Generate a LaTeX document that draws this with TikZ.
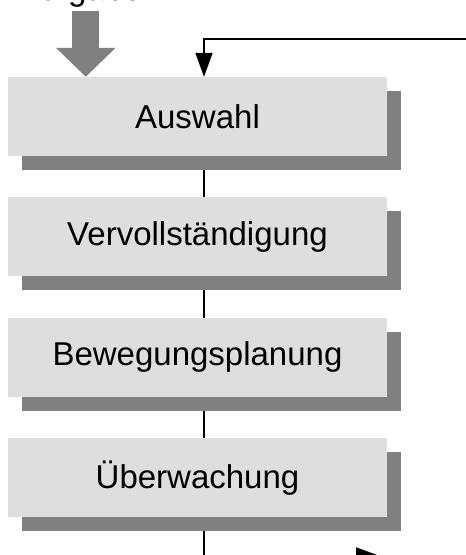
\documentclass[tikz,border=0pt]{standalone}
\usepackage{fontspec}
\setsansfont{Liberation Sans}
\usepackage{tikz}
\usetikzlibrary{
    arrows.meta,
    positioning,
    shadows,
    backgrounds
}
\definecolor{boxgrau}{HTML}{DEDEDE}
\definecolor{schatten}{HTML}{808080}
\tikzstyle{linie} = [
    line width=1.6pt,
    draw=black
]
\tikzstyle{pfeil} = [
    linie,
    -{Triangle[length=24pt,width=17pt]}
]

\begin{document}
\begin{tikzpicture}[
    font=\sffamily\fontsize{33}{40}\selectfont,
    node distance=41pt,
    stufe/.style={
        rectangle,
        minimum width=379pt,
        minimum height=79pt,
        inner sep=0pt,
        fill=boxgrau,
        text centered,
        drop shadow={shadow xshift=14pt, shadow yshift=-14pt,
            fill=schatten, opacity=1}
    },
    eingang/.style={
        line width=27pt,
        draw=schatten,
        -{Triangle[length=29pt,width=58pt]}
    }
]
\useasboundingbox (0,0) rectangle (466pt,-555pt);
\clip (0,0) rectangle (466pt,-555pt);

% Planungsstufen
\node[stufe] (auswahl) at (197.5pt,-116.5pt) {Auswahl};
\node[stufe, below=of auswahl] (vervoll) {Vervollständigung};
\node[stufe, below=of vervoll] (bewegung) {Bewegungsplanung};
\node[stufe, below=of bewegung] (ueberw) {Überwachung};

% Eingabe oben
\node[inner sep=0pt, anchor=base] (aufgabe) at (80pt,0pt) {Aufgabe};
\coordinate (ein) at ([xshift=78pt]auswahl.north west);
\draw[eingang] ([yshift=-4pt]aufgabe.south -| ein) -- (ein);

% Rueckfuehrung und Ausgang
\coordinate (rueck) at (470pt,-39pt);
\coordinate (aus) at (380pt,-556pt);
\draw[pfeil] (rueck) -| ([xshift=6.5pt]auswahl.north);

\begin{scope}[on background layer]
\draw[linie] ([xshift=6.5pt]auswahl.south) -- ([xshift=6.5pt]vervoll.north);
\draw[linie] ([xshift=6.5pt]vervoll.south) -- ([xshift=6.5pt]bewegung.north);
\draw[linie] ([xshift=6.5pt]bewegung.south) -- ([xshift=6.5pt]ueberw.north);
\draw[pfeil] ([xshift=6.5pt]ueberw.south) |- (aus);
\end{scope}

\end{tikzpicture}
\end{document}
